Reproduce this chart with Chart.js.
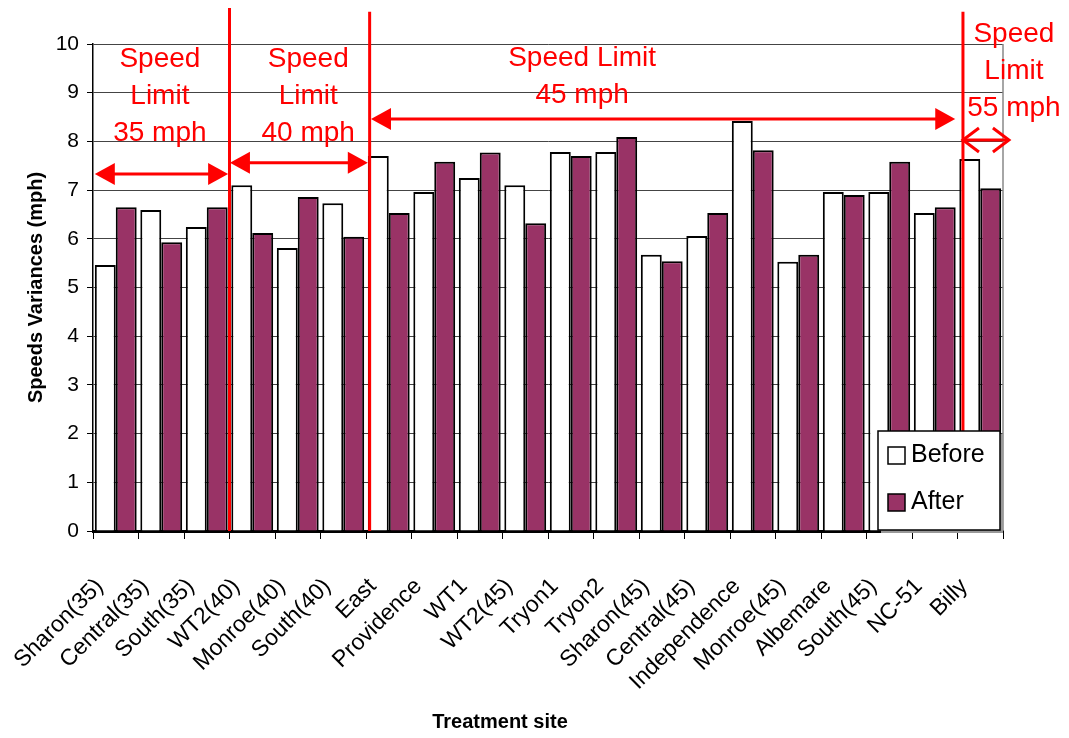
<!DOCTYPE html>
<html>
<head>
<meta charset="utf-8">
<script src="https://cdn.jsdelivr.net/npm/chart.js@4/dist/chart.umd.min.js"></script>
<style>
  html, body { margin: 0; padding: 0; background: #fff; }
  #wrap { width: 1069px; height: 738px; }
</style>
</head>
<body>
<div id="wrap"><canvas id="myChart" width="1069" height="738"></canvas></div>
<script>
// data
var sites = ['Sharon(35)', 'Central(35)', 'South(35)', 'WT2(40)', 'Monroe(40)', 'South(40)',
  'East', 'Providence', 'WT1', 'WT2(45)', 'Tryon1', 'Tryon2', 'Sharon(45)', 'Central(45)',
  'Independence', 'Monroe(45)', 'Albemare', 'South(45)', 'NC-51', 'Billy'];
var before = [5.46, 6.59, 6.24, 7.10, 5.81, 6.73, 7.70, 6.96, 7.25, 7.10,
  7.78, 7.78, 5.67, 6.06, 8.42, 5.53, 6.96, 6.96, 6.53, 7.64];
var after = [6.65, 5.93, 6.65, 6.12, 6.86, 6.04, 6.53, 7.58, 7.77, 6.32,
  7.70, 8.09, 5.54, 6.53, 7.82, 5.67, 6.90, 7.58, 6.65, 7.04];
var yMin = 0, yMax = 10, yStep = 1;

// speed limit zones (category index units / y values)
var zoneLines = [2.5, 5.58, 18.62];
var zoneArrows = [
  { from: -0.46, to: 2.47, y: 7.33, open: false },
  { from: 2.51, to: 5.54, y: 7.56, open: false },
  { from: 5.61, to: 18.45, y: 8.46, open: false },
  { from: 18.62, to: 19.63, y: 8.03, open: true }
];
var zoneTexts = [
  { x: 0.97, y: 9.69, lines: ['Speed', 'Limit', '35 mph'] },
  { x: 4.23, y: 9.69, lines: ['Speed', 'Limit', '40 mph'] },
  { x: 10.25, y: 9.71, lines: ['Speed Limit', '45 mph'] },
  { x: 19.74, y: 10.19, lines: ['Speed', 'Limit', '55 mph'] }
];

var RED = '#ff0000';
var PLUM = '#993366';
var FONT = '"Liberation Sans", Arial, sans-serif';

function arrowHead(ctx, x, y, dir, open) {
  var len = open ? 16 : 20, half = open ? 12 : 11;
  ctx.beginPath();
  ctx.moveTo(x - dir * len, y - half);
  ctx.lineTo(x, y);
  ctx.lineTo(x - dir * len, y + half);
  if (open) {
    ctx.stroke();
  } else {
    ctx.closePath();
    ctx.fill();
  }
}

var zonePlugin = {
  id: 'zones',
  afterDatasetsDraw: function(chart) {
    var ctx = chart.ctx;
    var xs = chart.scales.x, ys = chart.scales.y;
    var area = chart.chartArea;
    ctx.save();
    ctx.strokeStyle = RED;
    ctx.fillStyle = RED;
    ctx.lineWidth = 3;

    zoneLines.forEach(function(v, i) {
      var x = xs.getPixelForValue(v);
      ctx.beginPath();
      ctx.moveTo(x, ys.getPixelForValue(i === 0 ? 10.74 : 10.66));
      ctx.lineTo(x, area.bottom);
      ctx.stroke();
    });

    zoneArrows.forEach(function(a) {
      var x1 = xs.getPixelForValue(a.from), x2 = xs.getPixelForValue(a.to);
      var y = ys.getPixelForValue(a.y);
      ctx.lineWidth = 3;
      ctx.beginPath();
      ctx.moveTo(x1 + (a.open ? 0 : 8), y);
      ctx.lineTo(x2 - (a.open ? 0 : 8), y);
      ctx.stroke();
      arrowHead(ctx, x1, y, -1, a.open);
      arrowHead(ctx, x2, y, 1, a.open);
    });

    ctx.font = '28px ' + FONT;
    ctx.textAlign = 'center';
    ctx.textBaseline = 'middle';
    zoneTexts.forEach(function(t) {
      var x = xs.getPixelForValue(t.x);
      var y = ys.getPixelForValue(t.y);
      t.lines.forEach(function(s, k) {
        ctx.fillText(s, x, y + k * 37);
      });
    });

    // legend box in lower right of plot
    var lx = area.right - 125, ly = area.bottom - 100, lw = 122, lh = 99;
    ctx.fillStyle = '#999';
    ctx.fillRect(lx + 3, ly + 3, lw, lh);
    ctx.fillStyle = '#fff';
    ctx.fillRect(lx, ly, lw, lh);
    ctx.strokeStyle = '#000';
    ctx.lineWidth = 1.5;
    ctx.strokeRect(lx, ly, lw, lh);
    var items = [['Before', '#fff'], ['After', PLUM]];
    ctx.font = '25px ' + FONT;
    ctx.textAlign = 'left';
    items.forEach(function(it, k) {
      var cy = ly + 24 + k * 47;
      ctx.fillStyle = it[1];
      ctx.fillRect(lx + 10, cy - 8, 17, 17);
      ctx.strokeRect(lx + 10, cy - 8, 17, 17);
      ctx.fillStyle = '#000';
      ctx.fillText(it[0], lx + 33, cy);
    });

    // x axis title
    ctx.font = 'bold 20px ' + FONT;
    ctx.textAlign = 'center';
    ctx.fillText('Treatment site', (area.left + area.right) / 2 - 48, 722);
    ctx.restore();
  }
};

var borderPlugin = {
  id: 'plotBorder',
  beforeDatasetsDraw: function(chart) {
    var ctx = chart.ctx, a = chart.chartArea;
    ctx.save();
    ctx.strokeStyle = '#888';
    ctx.lineWidth = 1.5;
    ctx.beginPath();
    ctx.moveTo(a.right, a.top);
    ctx.lineTo(a.right, a.bottom);
    ctx.stroke();
    ctx.restore();
  }
};

var ctx = document.getElementById('myChart').getContext('2d');
var myChart = new Chart(ctx, {
  type: 'bar',
  data: {
    labels: sites,
    datasets: [{
      label: 'Before',
      data: before,
      backgroundColor: '#ffffff',
      borderColor: '#000000',
      borderWidth: 2,
      categoryPercentage: 0.92,
      barPercentage: 1.0
    },
    {
      label: 'After',
      data: after,
      backgroundColor: PLUM,
      borderColor: '#000000',
      borderWidth: 2,
      categoryPercentage: 0.92,
      barPercentage: 1.0
    }]
  },
  options: {
    responsive: false,
    animation: false,
    layout: { padding: { top: 44, right: 66, left: 0, bottom: 0 } },
    plugins: {
      legend: { display: false },
      tooltip: { enabled: false }
    },
    scales: {
      x: {
        afterFit: function(scale) {
          scale.height = 207;
          scale.paddingLeft = 0;
          scale.paddingRight = 0;
        },
        border: { color: '#000', width: 3 },
        grid: { drawOnChartArea: false, drawTicks: true, tickLength: 8, color: '#000', offset: true },
        ticks: {
          autoSkip: false,
          maxRotation: 45,
          minRotation: 45,
          color: '#000',
          padding: 34,
          labelOffset: -16,
          font: { family: FONT, size: 23 }
        }
      },
      y: {
        min: yMin,
        max: yMax,
        afterFit: function(scale) { scale.width = 93; },
        border: { color: '#000', width: 1.5 },
        grid: { color: '#444', lineWidth: 1, tickLength: 6, tickColor: '#000' },
        ticks: {
          stepSize: yStep,
          color: '#000',
          padding: 8,
          font: { family: FONT, size: 21 }
        },
        title: {
          display: true,
          text: 'Speeds Variances (mph)',
          color: '#000',
          padding: { top: 24, bottom: 0 },
          font: { family: FONT, size: 20, weight: 'bold' }
        }
      }
    }
  },
  plugins: [borderPlugin, zonePlugin]
});
</script>
</body>
</html>
